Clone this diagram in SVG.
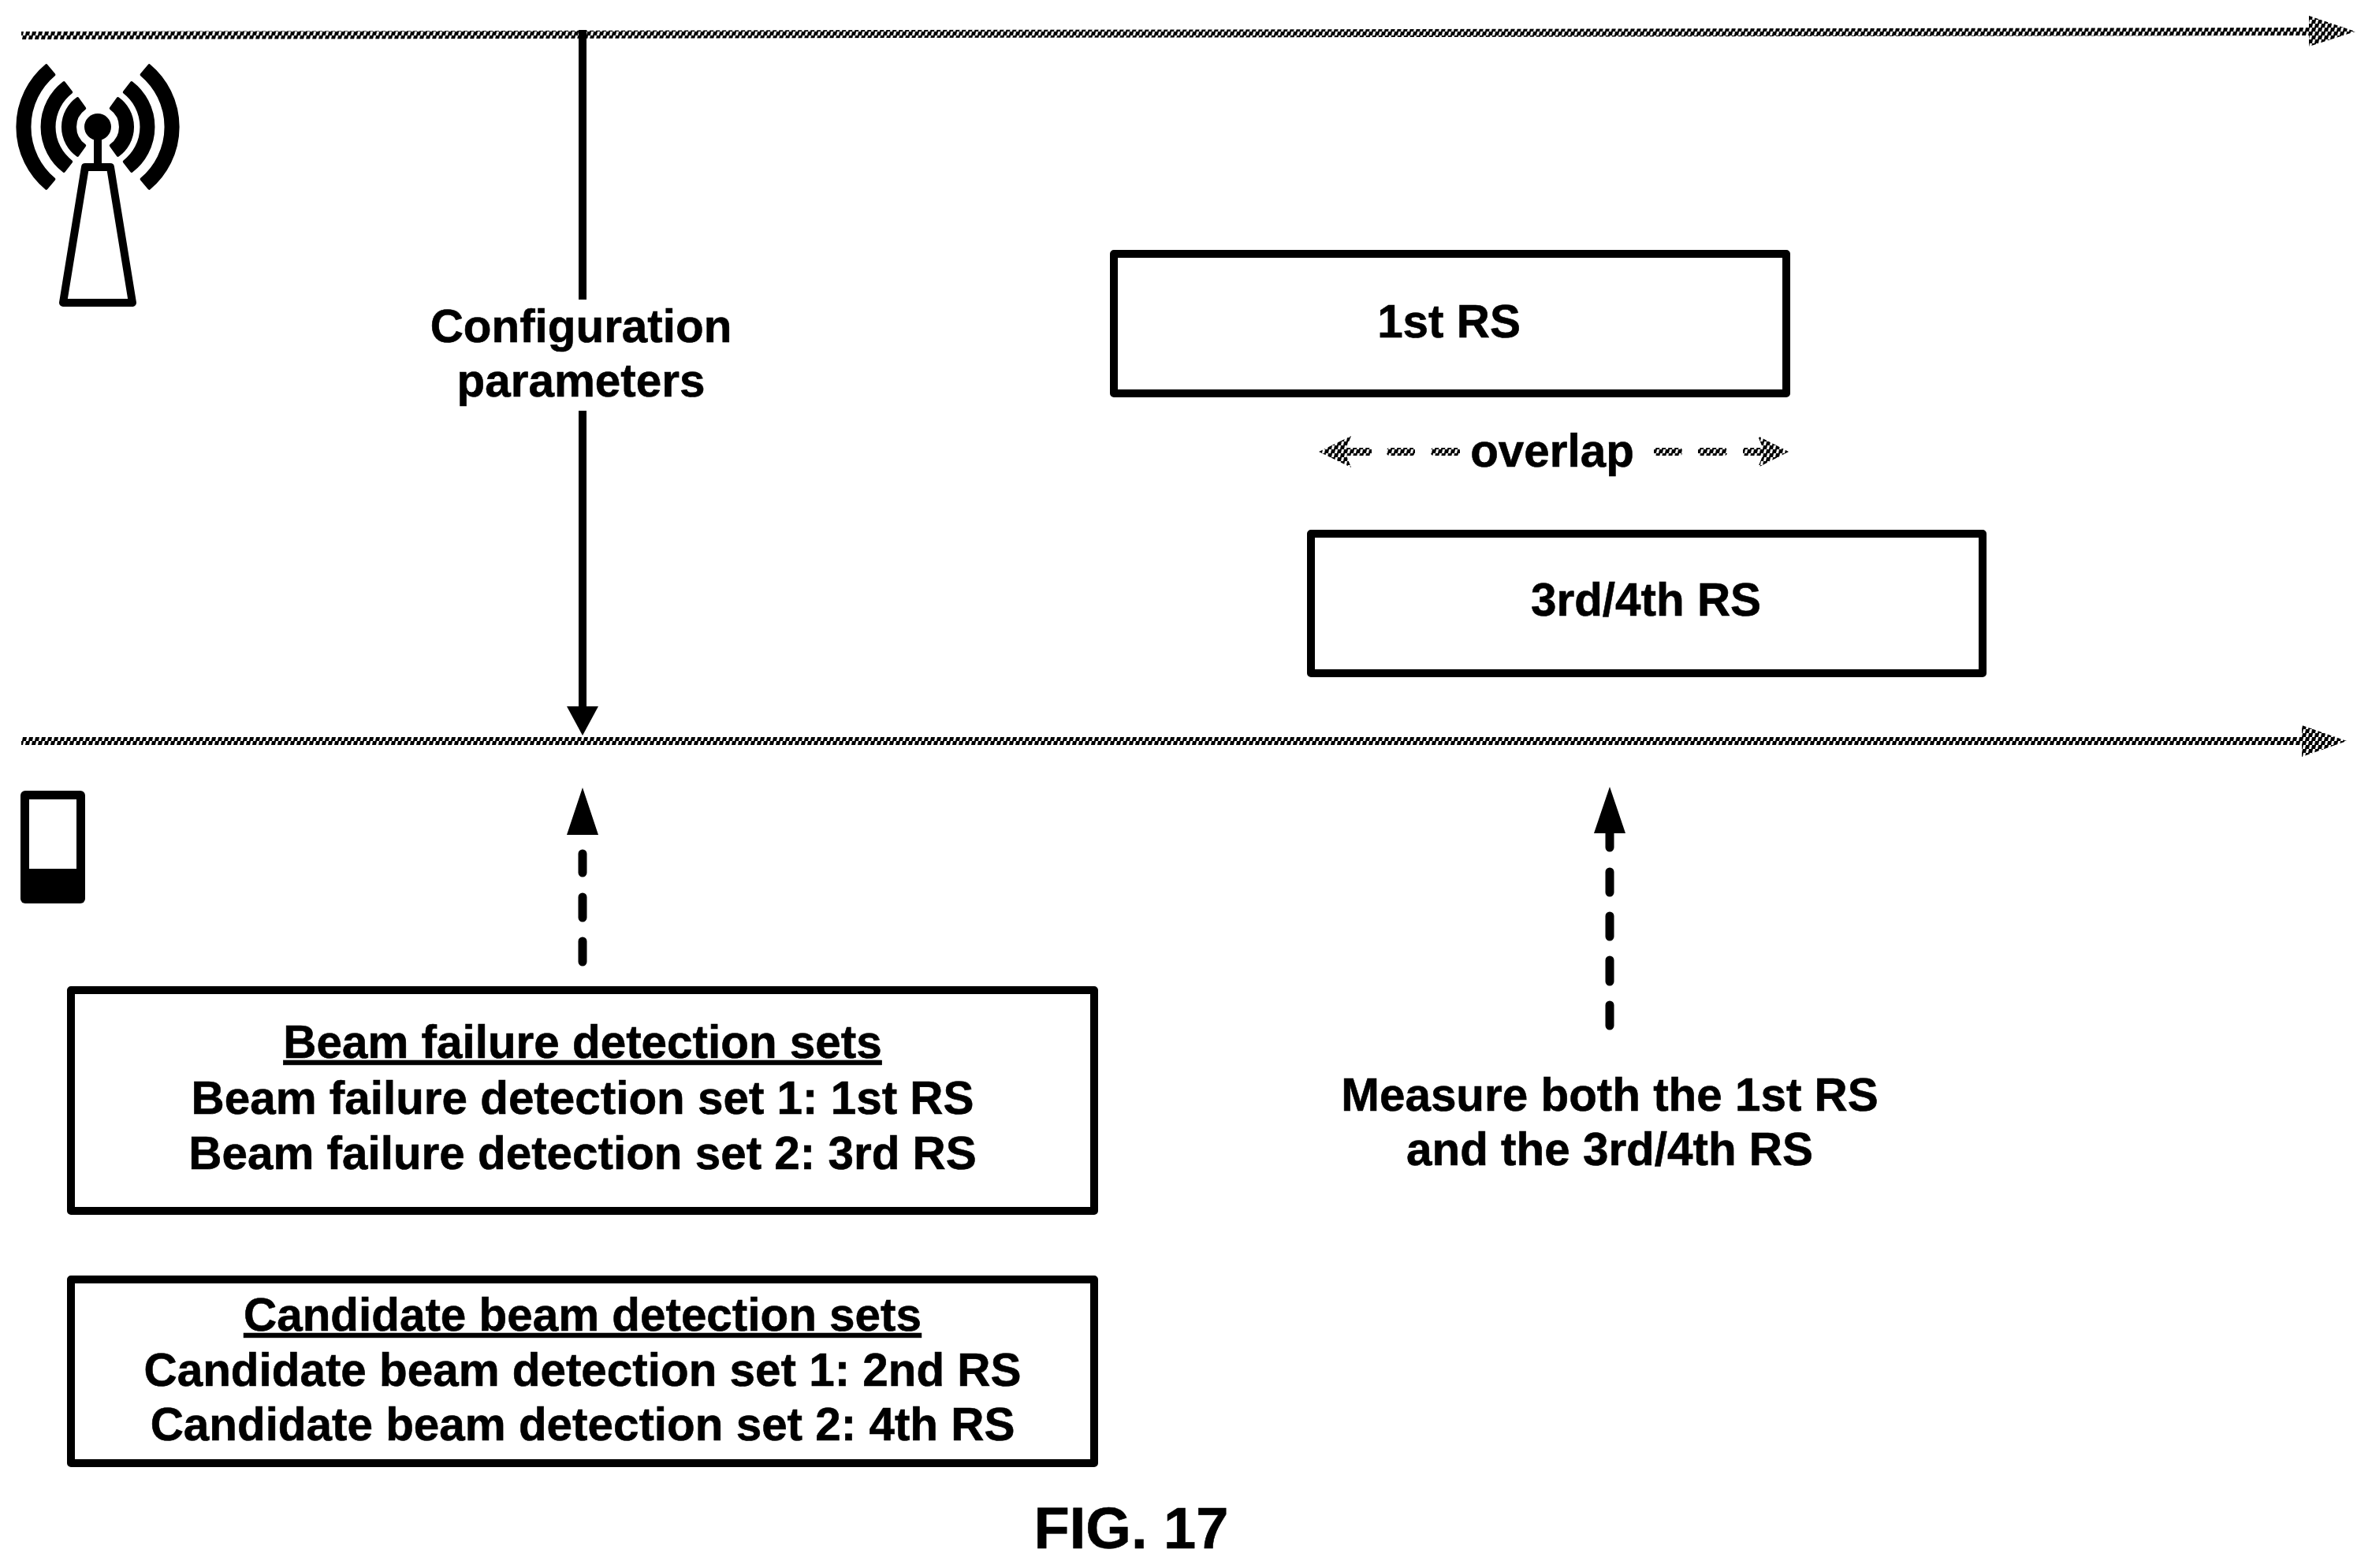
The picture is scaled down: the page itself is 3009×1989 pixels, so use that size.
<svg xmlns="http://www.w3.org/2000/svg" width="3009" height="1989" viewBox="0 0 3009 1989">
<style>
text{font-family:"Liberation Sans",Arial,sans-serif;font-weight:700;font-size:58.4px;fill:#000;stroke:#000;stroke-width:.6;text-anchor:middle}
.box{fill:#fff;stroke:#000;stroke-width:10;stroke-linejoin:round}
.u{text-decoration:underline}
.dash{stroke:#000;stroke-width:11;stroke-linecap:round;fill:none}
.chk{fill:url(#chk)}
</style>
<defs>
<pattern id="chk" width="8" height="10" patternUnits="userSpaceOnUse"><rect width="8" height="10" fill="#fff"/><path d="M1 0h5l-1 5h-5zM5 5h5l-1 5h-5zM-3 5h5l-1 5h-5z" fill="#000"/></pattern>
<g id="sectors"><path d="M58.700 83.200A101.500 101.500 0 0 0 58.700 238.800L68.400 227.300A86.500 86.500 0 0 1 68.400 94.700Z"/><path d="M81.100 105.100A70.500 70.500 0 0 0 81.100 216.900L90.200 205A55.500 55.500 0 0 1 90.200 117Z"/><path d="M98.400 125.200A44 44 0 0 0 98.400 196.800L107.200 184.600A29 29 0 0 1 107.200 137.400Z"/></g>
</defs>
<rect width="3009" height="1989" fill="#fff"/>
<g id="connectors">
<path class="chk" d="M27 40L2932 35V45L27 50Z"/>
<path class="chk" d="M2929 20L2988 40L2929 59Z"/>
<path class="chk" d="M27 935H2922V945H27Z"/>
<path class="chk" d="M2920 920L2977 940L2920 960Z"/>
<path d="M739 38V380M739 521V900" stroke="#000" stroke-width="10" fill="none"/>
<path d="M719 896H759L739 933Z" fill="#000"/>
<path class="dash" d="M739 1083V1107M739 1138V1164M739 1194V1220"/>
<path d="M719 1059H759L739 999Z" fill="#000"/>
<path class="dash" d="M2042 1050V1075M2042 1106V1132M2042 1162V1188M2042 1218V1245M2042 1275V1301"/>
<path d="M2022 1057H2062L2042 998Z" fill="#000"/>
<g id="overlap-arrows">
<path class="chk" d="M1673 573L1714 553L1708 568H1740V578H1708L1714 593Z"/>
<rect class="chk" x="1759" y="568" width="36" height="10" rx="4"/>
<rect class="chk" x="1815" y="568" width="37" height="10" rx="4"/>
<rect class="chk" x="2098" y="568" width="36" height="10" rx="4"/>
<rect class="chk" x="2154" y="568" width="37" height="10" rx="4"/>
<path class="chk" d="M2269 573L2230 553L2236 568H2211V578H2236L2230 593Z"/>
</g>
</g>
<g id="base-station">
<use href="#sectors" stroke="#000" stroke-width="4" stroke-linejoin="round"/>
<use href="#sectors" transform="translate(248 0) scale(-1 1)" stroke="#000" stroke-width="4" stroke-linejoin="round"/>
<circle cx="124" cy="161" r="17"/>
<rect x="119" y="170" width="10" height="40"/>
<path d="M108 212H140L168 384H80Z" fill="#fff" stroke="#000" stroke-width="10" stroke-linejoin="round"/>
</g>
<g id="ue"><rect x="26" y="1003" width="82" height="143" rx="6"/><rect x="37" y="1014" width="60" height="88" fill="#fff"/></g>
<g id="config-label"><text x="737" y="434">Configuration</text><text x="737" y="503">parameters</text></g>
<g id="rs1"><rect class="box" x="1413" y="322" width="853" height="177"/><text x="1838" y="428">1st RS</text></g>
<g id="overlap"><text x="1969" y="592">overlap</text></g>
<g id="rs34"><rect class="box" x="1663" y="677" width="852" height="177"/><text x="2088" y="781">3rd/4th RS</text></g>
<g id="bfd"><rect class="box" x="90" y="1256" width="1298" height="280"/><text class="u" x="739" y="1342">Beam failure detection sets</text><text x="739" y="1413">Beam failure detection set 1: 1st RS</text><text x="739" y="1483">Beam failure detection set 2: 3rd RS</text></g>
<g id="cbd"><rect class="box" x="90" y="1623" width="1298" height="233"/><text class="u" x="739" y="1688">Candidate beam detection sets</text><text x="739" y="1758">Candidate beam detection set 1: 2nd RS</text><text x="739" y="1827">Candidate beam detection set 2: 4th RS</text></g>
<g id="measure"><text x="2042" y="1409">Measure both the 1st RS</text><text x="2042" y="1478">and the 3rd/4th RS</text></g>
<text id="fig" x="1435" y="1964" style="font-size:74px">FIG. 17</text>
</svg>
